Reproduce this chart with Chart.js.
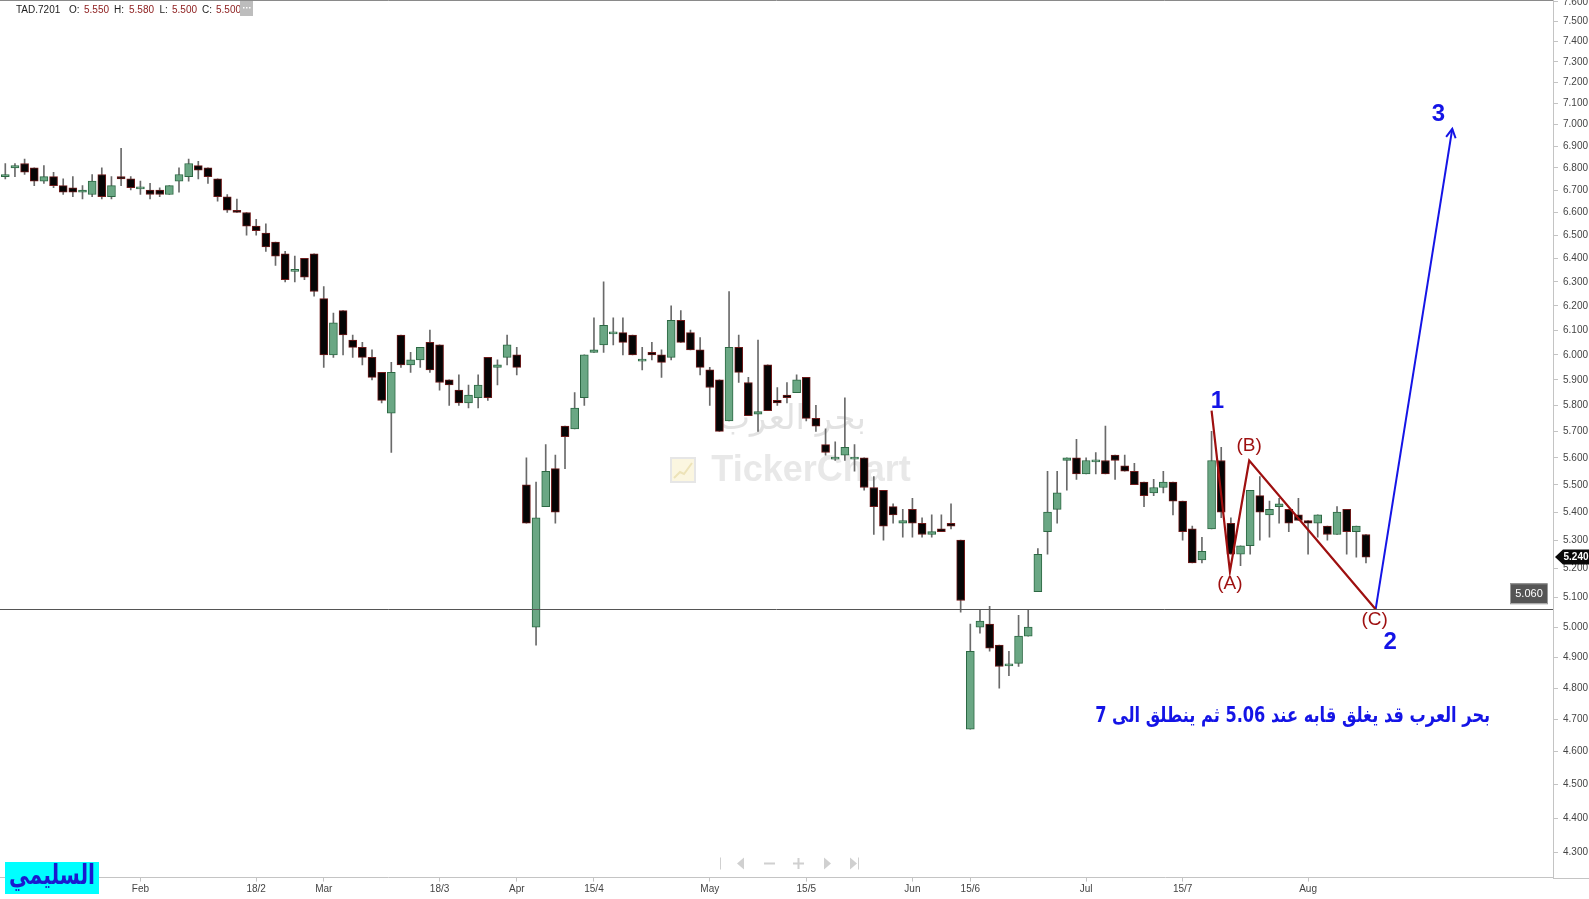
<!DOCTYPE html>
<html>
<head>
<meta charset="utf-8">
<title>TAD.7201</title>
<script src="https://cdn.jsdelivr.net/npm/chart.js@4.4.1/dist/chart.umd.min.js"></script>
<style>
  html, body { margin: 0; padding: 0; background: #fff; }
  canvas { display: block; }
</style>
</head>
<body>
<canvas id="chart" width="1589" height="899"></canvas>
<script>
// daily candles (oldest first)
var opens = [6.76, 6.80, 6.82, 6.80, 6.74, 6.76, 6.72, 6.71, 6.69, 6.68, 6.77, 6.67, 6.76, 6.75, 6.705, 6.70, 6.70, 6.68, 6.74, 6.76,
    6.81, 6.80, 6.75, 6.67, 6.61, 6.60, 6.54, 6.51, 6.47, 6.42, 6.345, 6.40, 6.42, 6.23, 6.00, 6.18, 6.06, 6.03, 5.99, 5.93,
    5.77, 6.08, 5.96, 5.98, 6.05, 6.04, 5.90, 5.86, 5.81, 5.83, 5.99, 5.95, 5.99, 6.00, 5.50, 5.00, 5.42, 5.56, 5.72, 5.71,
    5.83, 6.01, 6.04, 6.085, 6.09, 6.08, 5.975, 6.01, 6.00, 5.99, 6.14, 6.09, 6.02, 5.94, 5.90, 5.74, 6.03, 5.89, 5.766, 5.96,
    5.82, 5.84, 5.85, 5.91, 5.75, 5.65, 5.595, 5.61, 5.595, 5.60, 5.49, 5.48, 5.42, 5.36, 5.41, 5.36, 5.32, 5.34, 5.36, 5.30,
    4.67, 5.00, 5.01, 4.94, 4.872, 4.88, 4.97, 5.12, 5.33, 5.41, 5.59, 5.60, 5.54, 5.585, 5.59, 5.61, 5.57, 5.55, 5.51, 5.47,
    5.49, 5.51, 5.44, 5.34, 5.23, 5.34, 5.59, 5.36, 5.25, 5.28, 5.46, 5.39, 5.42, 5.41, 5.39, 5.37, 5.36, 5.35, 5.32, 5.41,
    5.33, 5.32];
var highs = [6.82, 6.82, 6.84, 6.80, 6.81, 6.78, 6.75, 6.76, 6.72, 6.77, 6.80, 6.76, 6.89, 6.76, 6.74, 6.73, 6.71, 6.72, 6.80, 6.84,
    6.83, 6.80, 6.75, 6.68, 6.66, 6.60, 6.57, 6.55, 6.47, 6.43, 6.41, 6.40, 6.42, 6.28, 6.17, 6.18, 6.08, 6.05, 6.02, 5.93,
    5.97, 6.08, 6.01, 6.03, 6.10, 6.04, 5.90, 5.92, 5.88, 5.92, 5.99, 5.98, 6.08, 6.03, 5.60, 5.51, 5.65, 5.61, 5.72, 5.85,
    6.00, 6.15, 6.30, 6.15, 6.15, 6.08, 6.03, 6.05, 6.02, 6.20, 6.18, 6.10, 6.07, 5.95, 5.90, 6.26, 6.08, 5.91, 6.06, 5.96,
    5.87, 5.89, 5.92, 5.91, 5.80, 5.71, 5.66, 5.83, 5.65, 5.60, 5.53, 5.48, 5.43, 5.41, 5.45, 5.38, 5.39, 5.39, 5.43, 5.30,
    5.01, 5.06, 5.07, 4.94, 4.92, 5.04, 5.06, 5.27, 5.55, 5.55, 5.60, 5.67, 5.60, 5.62, 5.72, 5.61, 5.61, 5.58, 5.51, 5.52,
    5.55, 5.51, 5.44, 5.35, 5.31, 5.70, 5.64, 5.38, 5.28, 5.48, 5.53, 5.44, 5.45, 5.41, 5.45, 5.37, 5.39, 5.35, 5.42, 5.41,
    5.35, 5.32];
var lows = [6.75, 6.76, 6.77, 6.72, 6.73, 6.71, 6.68, 6.67, 6.66, 6.67, 6.66, 6.66, 6.72, 6.70, 6.68, 6.66, 6.67, 6.68, 6.69, 6.74,
    6.75, 6.73, 6.65, 6.60, 6.60, 6.50, 6.50, 6.43, 6.37, 6.30, 6.30, 6.31, 6.24, 5.95, 5.99, 6.00, 5.99, 5.96, 5.90, 5.81,
    5.62, 5.95, 5.93, 5.95, 5.93, 5.86, 5.80, 5.80, 5.79, 5.79, 5.82, 5.88, 5.96, 5.92, 5.36, 4.94, 5.42, 5.36, 5.56, 5.71,
    5.80, 6.01, 6.01, 6.04, 6.00, 6.00, 5.94, 5.98, 5.91, 5.98, 6.05, 6.02, 5.92, 5.80, 5.70, 5.74, 5.89, 5.76, 5.70, 5.78,
    5.80, 5.81, 5.85, 5.74, 5.70, 5.61, 5.59, 5.59, 5.55, 5.48, 5.32, 5.30, 5.36, 5.31, 5.31, 5.31, 5.31, 5.33, 5.34, 5.05,
    4.67, 4.98, 4.92, 4.80, 4.84, 4.87, 4.97, 5.12, 5.25, 5.36, 5.48, 5.52, 5.54, 5.54, 5.54, 5.52, 5.55, 5.50, 5.42, 5.46,
    5.47, 5.39, 5.30, 5.22, 5.22, 5.34, 5.38, 5.25, 5.21, 5.25, 5.30, 5.31, 5.36, 5.33, 5.37, 5.25, 5.31, 5.30, 5.32, 5.25,
    5.24, 5.22];
var closes = [6.77, 6.81, 6.78, 6.74, 6.76, 6.72, 6.69, 6.69, 6.70, 6.74, 6.67, 6.72, 6.75, 6.71, 6.71, 6.68, 6.68, 6.72, 6.77, 6.82,
    6.79, 6.76, 6.67, 6.61, 6.60, 6.54, 6.52, 6.45, 6.41, 6.31, 6.35, 6.32, 6.26, 6.00, 6.13, 6.08, 6.03, 5.99, 5.91, 5.82,
    5.93, 5.96, 5.98, 6.03, 5.94, 5.89, 5.88, 5.81, 5.84, 5.88, 5.83, 5.96, 6.04, 5.95, 5.36, 5.38, 5.55, 5.40, 5.68, 5.79,
    6.00, 6.02, 6.12, 6.09, 6.05, 6.00, 5.98, 6.00, 5.97, 6.14, 6.05, 6.02, 5.95, 5.87, 5.70, 6.03, 5.93, 5.76, 5.776, 5.78,
    5.81, 5.83, 5.90, 5.75, 5.72, 5.62, 5.60, 5.64, 5.60, 5.49, 5.42, 5.35, 5.39, 5.37, 5.36, 5.32, 5.33, 5.33, 5.35, 5.09,
    4.92, 5.02, 4.93, 4.87, 4.877, 4.97, 5.00, 5.25, 5.40, 5.47, 5.60, 5.54, 5.59, 5.59, 5.54, 5.59, 5.55, 5.50, 5.46, 5.49,
    5.51, 5.44, 5.33, 5.22, 5.26, 5.59, 5.40, 5.25, 5.28, 5.48, 5.40, 5.41, 5.43, 5.36, 5.37, 5.36, 5.39, 5.32, 5.40, 5.33,
    5.35, 5.24];

// axis ticks
var xTickPos = [14, 26, 33, 45, 53, 61, 73, 83, 94, 100, 112, 122, 135];
var xTickText = ['Feb', '18/2', 'Mar', '18/3', 'Apr', '15/4', 'May', '15/5', 'Jun', '15/6', 'Jul', '15/7', 'Aug'];
var yTicks = [4.3, 4.4, 4.5, 4.6, 4.7, 4.8, 4.9, 5.0, 5.1, 5.2, 5.3, 5.4, 5.5, 5.6, 5.7, 5.8, 5.9, 6.0, 6.1, 6.2,
    6.3, 6.4, 6.5, 6.6, 6.7, 6.8, 6.9, 7.0, 7.1, 7.2, 7.3, 7.4, 7.5, 7.6];

// elliott wave drawing (1)-(A)-(B)-(C) and the projected wave 3
var waveX = [125, 126.9, 128.9, 142];
var waveY = [5.78, 5.19, 5.59, 5.06];
var targetX = [142, 149.94];
var targetY = [5.06, 6.98];
var supportLevel = 5.06;
var lastPrice = 5.24;

var GREEN = '#6aa784', GREEN_EDGE = '#2c6843';
var BLACK = '#050505', BLACK_EDGE = '#6e1a1a';
var BLUE = '#1414e6', RED = '#9e1010';

var bodyData = [], wickData = [], bodyFill = [], bodyEdge = [];
for (var i = 0; i < opens.length; i++) {
    bodyData.push({ x: i, y: [opens[i], closes[i]] });
    wickData.push({ x: i, y: [lows[i], highs[i]] });
    var up = closes[i] >= opens[i];
    bodyFill.push(up ? GREEN : BLACK);
    bodyEdge.push(up ? GREEN_EDGE : BLACK_EDGE);
}
var wavePts = waveX.map(function (x, i) { return { x: x, y: waveY[i] }; });
var targetPts = targetX.map(function (x, i) { return { x: x, y: targetY[i] }; });

// extra drawing: watermark, levels, labels, header, logo
var overlay = {
    id: 'overlay',
    beforeDatasetsDraw: function (chart) {
        var ctx = chart.ctx;
        ctx.save();
        ctx.textAlign = 'center';
        ctx.textBaseline = 'middle';
        ctx.fillStyle = '#e2e2e2';
        ctx.direction = 'rtl';
        ctx.font = '34px "DejaVu Sans"';
        ctx.fillText('بحر العرب', 792, 420);
        ctx.direction = 'ltr';
        ctx.fillStyle = '#e8e8e8';
        ctx.font = 'bold 36px "Liberation Sans"';
        ctx.fillText('TickerChart', 811, 471);
        // small logo icon
        ctx.fillStyle = '#fbf6e0';
        ctx.fillRect(671, 458, 24, 24);
        ctx.strokeStyle = '#e6e6e6';
        ctx.lineWidth = 2;
        ctx.strokeRect(671, 458, 24, 24);
        ctx.strokeStyle = '#ede3b8';
        ctx.beginPath();
        ctx.moveTo(674, 478); ctx.lineTo(680, 472); ctx.lineTo(684, 474); ctx.lineTo(692, 463);
        ctx.stroke();
        ctx.restore();
    },
    afterDatasetsDraw: function (chart) {
        var ctx = chart.ctx, xs = chart.scales.x, ys = chart.scales.y;
        ctx.save();
        // support line
        var yl = Math.round(ys.getPixelForValue(supportLevel)) + 0.5;
        ctx.strokeStyle = '#555';
        ctx.lineWidth = 1;
        ctx.beginPath();
        ctx.moveTo(0, yl); ctx.lineTo(chart.chartArea.right, yl);
        ctx.stroke();

        // arrow head on wave 3
        var x1 = xs.getPixelForValue(targetX[0]), y1 = ys.getPixelForValue(targetY[0]);
        var x2 = xs.getPixelForValue(targetX[1]), y2 = ys.getPixelForValue(targetY[1]);
        var a = Math.atan2(y2 - y1, x2 - x1);
        ctx.strokeStyle = BLUE;
        ctx.lineWidth = 2;
        ctx.beginPath();
        ctx.moveTo(x2 - 10 * Math.cos(a - 0.5), y2 - 10 * Math.sin(a - 0.5));
        ctx.lineTo(x2, y2);
        ctx.lineTo(x2 - 10 * Math.cos(a + 0.5), y2 - 10 * Math.sin(a + 0.5));
        ctx.stroke();

        // wave labels
        ctx.textAlign = 'center';
        ctx.textBaseline = 'middle';
        function put(txt, x, y, font, color) {
            ctx.font = font;
            ctx.fillStyle = color;
            ctx.fillText(txt, xs.getPixelForValue(x), ys.getPixelForValue(y));
        }
        put('1', 125.6, 5.814, 'bold 24px "Liberation Sans"', BLUE);
        put('2', 143.5, 4.949, 'bold 24px "Liberation Sans"', BLUE);
        put('3', 148.5, 7.048, 'bold 24px "Liberation Sans"', BLUE);
        put('(A)', 126.9, 5.147, '19px "Liberation Sans"', RED);
        put('(B)', 128.9, 5.645, '19px "Liberation Sans"', RED);
        put('(C)', 141.9, 5.024, '19px "Liberation Sans"', RED);

        ctx.direction = 'rtl';
        ctx.font = 'bold 21px "DejaVu Sans"';
        ctx.fillStyle = BLUE;
        ctx.fillText('بحر العرب قد يغلق قابه عند 5.06 ثم ينطلق الى 7',
            xs.getPixelForValue(133.4), ys.getPixelForValue(4.71), 395);
        ctx.restore();
    },
    afterDraw: function (chart) {
        var ctx = chart.ctx, ys = chart.scales.y, area = chart.chartArea;
        ctx.save();
        // top border + x axis line across the price column
        ctx.strokeStyle = '#8a8a8a';
        ctx.lineWidth = 1;
        ctx.beginPath();
        ctx.moveTo(0, 0.5); ctx.lineTo(area.right, 0.5);
        ctx.stroke();
        ctx.strokeStyle = '#c4c4c4';
        ctx.beginPath();
        var yb = Math.round(area.bottom) + 0.5;
        ctx.moveTo(area.right, yb); ctx.lineTo(1589, yb);
        ctx.stroke();

        // 5.060 box
        var ys5 = ys.getPixelForValue(supportLevel);
        ctx.fillStyle = '#555';
        ctx.fillRect(1510, ys5 - 26, 37, 20);
        ctx.strokeStyle = '#9a9a9a';
        ctx.strokeRect(1510.5, ys5 - 25.5, 37, 20);
        ctx.fillStyle = '#fff';
        ctx.font = '11px "Liberation Sans"';
        ctx.textAlign = 'center';
        ctx.textBaseline = 'middle';
        ctx.fillText(supportLevel.toFixed(3), 1529, ys5 - 15.5);

        // last price flag
        var yp = ys.getPixelForValue(lastPrice);
        ctx.fillStyle = '#080808';
        ctx.beginPath();
        ctx.moveTo(1555, yp);
        ctx.lineTo(1563, yp - 7.5);
        ctx.lineTo(1589, yp - 7.5);
        ctx.lineTo(1589, yp + 7.5);
        ctx.lineTo(1563, yp + 7.5);
        ctx.closePath();
        ctx.fill();
        ctx.fillStyle = '#fff';
        ctx.font = 'bold 10px "Liberation Sans"';
        ctx.fillText(lastPrice.toFixed(3), 1576, yp + 0.5);

        // navigation buttons
        ctx.fillStyle = '#d0d0d0';
        var ny = 863.5;
        ctx.fillRect(720, ny - 6, 1, 12);
        ctx.beginPath(); ctx.moveTo(737, ny); ctx.lineTo(744, ny - 6); ctx.lineTo(744, ny + 6); ctx.closePath(); ctx.fill();
        ctx.fillRect(764, ny - 1, 11, 2);
        ctx.fillRect(793, ny - 1, 11, 2);
        ctx.fillRect(797.5, ny - 5.5, 2, 11);
        ctx.beginPath(); ctx.moveTo(824, ny - 6); ctx.lineTo(831, ny); ctx.lineTo(824, ny + 6); ctx.closePath(); ctx.fill();
        ctx.beginPath(); ctx.moveTo(850, ny - 6); ctx.lineTo(857, ny); ctx.lineTo(850, ny + 6); ctx.closePath(); ctx.fill();
        ctx.fillRect(858, ny - 6, 1, 12);

        // header
        ctx.textAlign = 'left';
        ctx.font = '10px "Liberation Sans"';
        var head = [['TAD.7201', 16, '#222'], ['O:', 69, '#222'], ['5.550', 84, '#8b1a1a'], ['H:', 114, '#222'],
            ['5.580', 129, '#8b1a1a'], ['L:', 159.5, '#222'], ['5.500', 172, '#8b1a1a'], ['C:', 202, '#222'],
            ['5.500', 216, '#8b1a1a']];
        head.forEach(function (h) { ctx.fillStyle = h[2]; ctx.fillText(h[0], h[1], 10.5); });
        ctx.fillStyle = '#bdbdbd';
        ctx.fillRect(240, 1, 13, 15);
        ctx.fillStyle = '#fff';
        ctx.fillRect(243, 7, 1.5, 1.5); ctx.fillRect(246, 7, 1.5, 1.5); ctx.fillRect(249, 7, 1.5, 1.5);

        // author box
        ctx.fillStyle = '#00ffff';
        ctx.fillRect(5, 862, 94, 32);
        ctx.fillStyle = '#1a1ad0';
        ctx.font = 'bold 27px "DejaVu Sans"';
        ctx.textAlign = 'center';
        ctx.direction = 'rtl';
        ctx.fillText('السليمي', 52, 877, 86);
        ctx.restore();
    }
};

Chart.defaults.font.family = '"Liberation Sans", Arial, sans-serif';

var ctx = document.getElementById('chart').getContext('2d');
window.priceChart = new Chart(ctx, {
    type: 'bar',
    data: {
        datasets: [
            {
                type: 'line', data: wavePts, borderColor: RED, borderWidth: 2.2,
                pointRadius: 0, tension: 0, fill: false, order: -2
            },
            {
                type: 'line', data: targetPts, borderColor: BLUE, borderWidth: 2,
                pointRadius: 0, tension: 0, fill: false, order: -1
            },
            {
                data: bodyData, backgroundColor: bodyFill, borderColor: bodyEdge, borderWidth: 1,
                borderSkipped: false, barThickness: 8, minBarLength: 2, grouped: false, order: 0
            },
            {
                data: wickData, backgroundColor: '#6a6a6a', borderWidth: 0,
                barThickness: 1, grouped: false, order: 1
            }
        ]
    },
    options: {
        responsive: false,
        animation: false,
        events: [],
        layout: { padding: 0 },
        plugins: { legend: { display: false }, tooltip: { enabled: false } },
        scales: {
            x: {
                type: 'linear', min: -0.549, max: 160.38, offset: false, bounds: 'data',
                afterBuildTicks: function (s) { s.ticks = xTickPos.map(function (v) { return { value: v }; }); },
                afterFit: function (s) { s.height = 21.4; s.paddingLeft = 0; s.paddingRight = 0; },
                ticks: {
                    autoSkip: false, maxRotation: 0, minRotation: 0, padding: 2, color: '#444',
                    font: { size: 10 },
                    callback: function (v, i) { return xTickText[i]; }
                },
                grid: { drawOnChartArea: false, tickLength: 4, color: '#c4c4c4', offset: false },
                border: { display: true, color: '#c4c4c4' }
            },
            y: {
                type: 'logarithmic', position: 'right', min: 4.228, max: 7.609, bounds: 'data',
                afterBuildTicks: function (s) { s.ticks = yTicks.map(function (v) { return { value: v }; }); },
                afterFit: function (s) { s.width = 36; s.paddingTop = 0; s.paddingBottom = 0; },
                ticks: {
                    autoSkip: false, padding: 5, color: '#444', font: { size: 10 },
                    callback: function (v) { return Number(v).toFixed(3); }
                },
                grid: { drawOnChartArea: false, tickLength: 5, color: '#c4c4c4' },
                border: { display: true, color: '#c4c4c4' }
            }
        }
    },
    plugins: [overlay]
});
</script>
</body>
</html>
